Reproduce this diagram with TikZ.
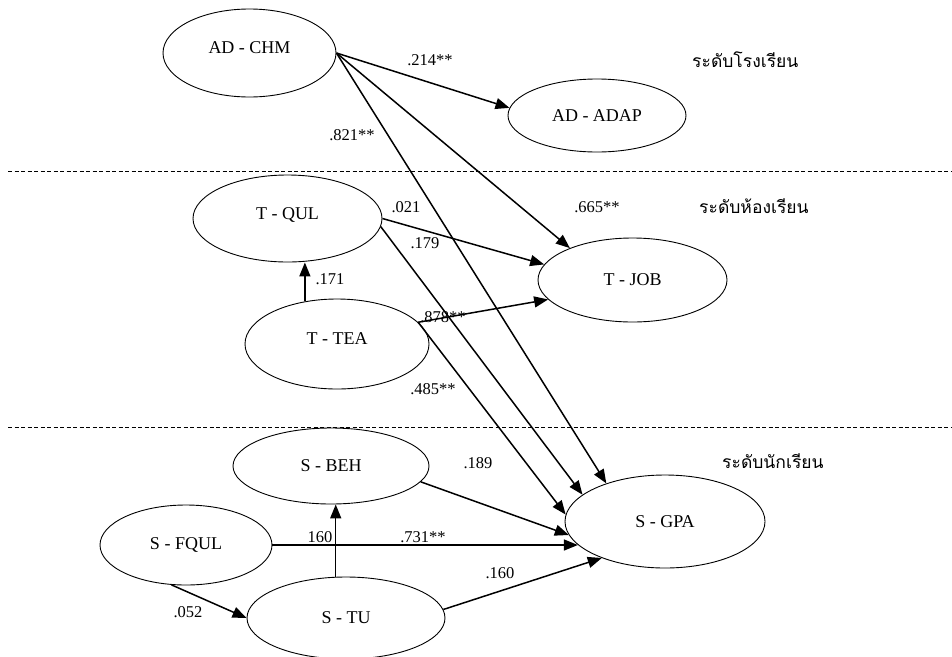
\documentclass[tikz,border=0pt]{standalone}
\usepackage{fontspec}
\setmainfont{Liberation Serif}
\newfontfamily\thaifont[Script=Thai]{Loma}
\usetikzlibrary{shapes.geometric,arrows.meta}
\begin{document}
\begin{tikzpicture}[x=1pt,y=-1pt,
  var/.style={ellipse,draw,line width=0.9pt,inner sep=0pt,font=\fontsize{18}{20}\selectfont},
  textup/.style={text depth=10pt},
  lbl/.style={inner sep=0pt,font=\fontsize{16.5}{18}\selectfont},
  lvl/.style={inner sep=0pt,anchor=base west,font=\thaifont\fontsize{17.5}{20}\selectfont},
  arr/.style={line width=1.5pt,-{Triangle[length=14pt,width=11pt]}},
  sepline/.style={dash pattern=on 4pt off 2.5pt,line width=1pt}]
\path[use as bounding box,fill=white] (0,0) rectangle (952,656);
% separators
\coordinate (d1l) at (8,171);
\coordinate (d1r) at (952,171);
\coordinate (d2l) at (8,427);
\coordinate (d2r) at (952,427);
\draw[sepline] (d1l) -- (d1r);
\draw[sepline] (d2l) -- (d2r);
% variables
\node[var,textup,minimum width=173pt,minimum height=88pt] (adchm) at (249.5,53) {AD - CHM};
\node[var,minimum width=178pt,minimum height=73pt] (adadap) at (597,115.5) {AD - ADAP};
\node[var,textup,minimum width=189pt,minimum height=87pt] (tqul) at (287.5,218.5) {T - QUL};
\node[var,minimum width=189pt,minimum height=84pt] (tjob) at (632.5,280) {T - JOB};
\node[var,textup,minimum width=184pt,minimum height=90pt] (ttea) at (337,344) {T - TEA};
\node[var,minimum width=196pt,minimum height=76pt] (sbeh) at (331,466) {S - BEH};
\node[var,minimum width=172pt,minimum height=80pt] (sfqul) at (186,545) {S - FQUL};
\node[var,minimum width=198pt,minimum height=82pt] (stu) at (346,618) {S - TU};
\node[var,minimum width=200pt,minimum height=93pt] (sgpa) at (665,521.5) {S - GPA};
% paths
\draw[arr] (adchm.east) -- (adadap.175);
\draw[arr] (adchm.east) -- (tjob.153);
\draw[arr] (adchm.east) -- (sgpa.147);
\draw[arr] (tqul.east) -- (tjob.170);
\draw[arr] (tqul.355) -- (sgpa.162);
\draw[arr] (ttea.127) -- (ttea.127 |- tqul.south);
\draw[arr] (ttea.15) -- (tjob.193);
\draw[arr] (ttea.15) -- (sgpa.176);
\draw[arr] (sbeh.350) -- (sgpa.188);
\draw[arr] (sfqul.east) -- (sfqul.east -| sgpa.195);
\draw[arr] (stu.104) -- (stu.104 |- sbeh.south);
\draw[arr] (sfqul.250) -- (stu.west);
\draw[arr] (stu.5) -- (sgpa.210);
% coefficients
\node[lbl] (l214) at (430,60) {.214**};
\node[lbl] (l821) at (352,135) {.821**};
\node[lbl] (l665) at (597,207) {.665**};
\node[lbl] (l021) at (406,207) {.021};
\node[lbl] (l179) at (425,243) {.179};
\node[lbl] (l171) at (330,279) {.171};
\node[lbl] (l878) at (443,317) {.878**};
\node[lbl] (l485) at (433,389) {.485**};
\node[lbl] (l189) at (478,463) {.189};
\node[lbl] (l160a) at (320,537) {160};
\node[lbl] (l731) at (423,537) {.731**};
\node[lbl] (l052) at (188,612) {.052};
\node[lbl] (l160b) at (500,573) {.160};
% levels
\node[lvl] (lev1) at (692,67) {ระดับโรงเรียน};
\node[lvl] (lev2) at (699,213) {ระดับห้องเรียน};
\node[lvl] (lev3) at (722,468) {ระดับนักเรียน};
\end{tikzpicture}
\end{document}
